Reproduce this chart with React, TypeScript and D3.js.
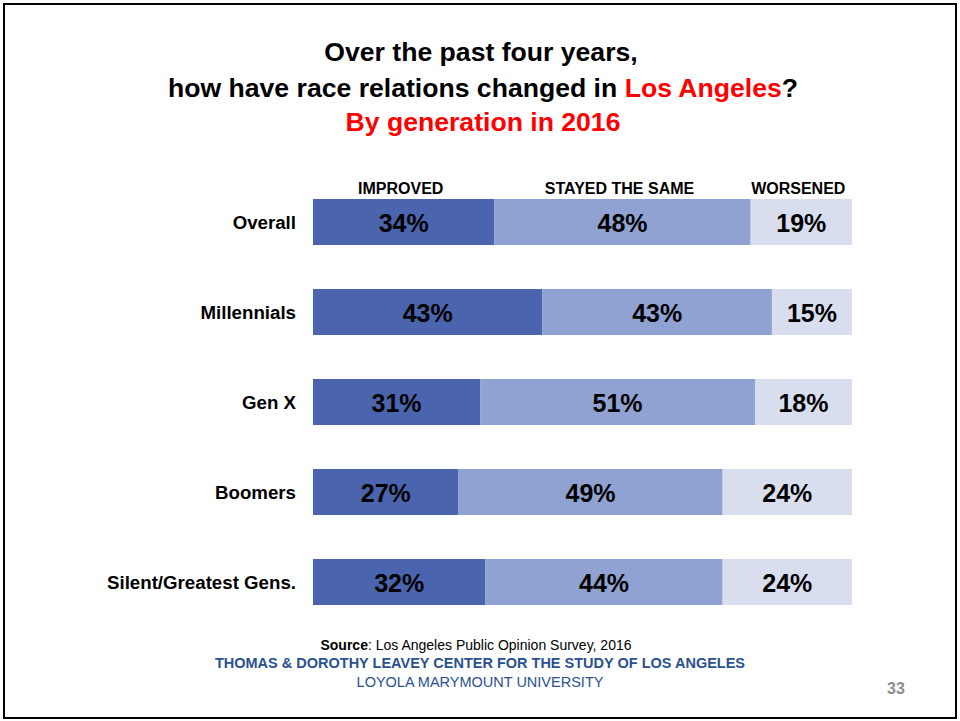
import React from "react";
import * as d3 from "d3";

const categories = ["Overall", "Millennials", "Gen X", "Boomers", "Silent/Greatest Gens."];
const seriesNames = ["IMPROVED", "STAYED THE SAME", "WORSENED"];
const improved = [34, 43, 31, 27, 32];
const stayed = [48, 43, 51, 49, 44];
const worsened = [19, 15, 18, 24, 24];
const colors = ["#4a64ae", "#8fa2d1", "#d9deef"];

const W = 960;
const H = 721;
const FONT = "Liberation Sans, Arial, sans-serif";

export default function App() {
  const rows = categories.map((c, i) => ({
    cat: c,
    s0: improved[i],
    s1: stayed[i],
    s2: worsened[i],
  }));
  const stack = d3.stack<any>().keys(["s0", "s1", "s2"]).offset(d3.stackOffsetExpand);
  const series = stack(rows);
  const x = d3.scaleLinear().domain([0, 1]).range([313, 852]);
  const y = d3
    .scaleBand()
    .domain(categories)
    .range([177, 627])
    .paddingInner(44 / 90)
    .paddingOuter(22 / 90);
  const vals = [improved, stayed, worsened];
  const bw = y.bandwidth();

  return (
    <svg width={W} height={H} style={{ position: "absolute", left: 0, top: 0 }} fontFamily={FONT}>
      <rect x={0} y={0} width={W} height={H} fill="#fff" />
      <rect x={4} y={4} width={952} height={714} fill="none" stroke="#000" strokeWidth={2} />
      <text x={481} y={61} textAnchor="middle" fontSize={26.6} fontWeight="bold" fill="#000">
        Over the past four years,
      </text>
      <text x={483} y={97} textAnchor="middle" fontSize={26.6} fontWeight="bold" fill="#000">
        how have race relations changed in <tspan fill="#ff0000">Los Angeles</tspan>?
      </text>
      <text x={483} y={131} textAnchor="middle" fontSize={26.6} fontWeight="bold" fill="#ff0000">
        By generation in 2016
      </text>
      {series.map((s, k) => {
        const d0 = s[0];
        return (
          <text key={"h" + k} x={(x(d0[0]) + x(d0[1])) / 2 - 3} y={194} textAnchor="middle" fontSize={16} fontWeight="bold" fill="#000">
            {seriesNames[k]}
          </text>
        );
      })}
      {series.map((s, k) => (
        <g key={"s" + k}>
          {s.map((d, i) => {
            const x0 = x(d[0]);
            const x1 = x(d[1]);
            const yy = y(categories[i])!;
            return (
              <g key={i}>
                <rect x={x0} y={yy} width={x1 - x0} height={bw} fill={colors[k]} />
                <text x={(x0 + x1) / 2} y={yy + bw / 2 + 10} textAnchor="middle" fontSize={25} fontWeight="bold" fill="#000">
                  {vals[k][i]}%
                </text>
              </g>
            );
          })}
        </g>
      ))}
      {categories.map((c) => (
        <text key={c} x={296} y={y(c)! + bw / 2 + 6.5} textAnchor="end" fontSize={18.7} fontWeight="bold" fill="#000">
          {c}
        </text>
      ))}
      <text x={476} y={650} textAnchor="middle" fontSize={14} fill="#000">
        <tspan fontWeight="bold">Source</tspan>: Los Angeles Public Opinion Survey, 2016
      </text>
      <text x={480} y={668} textAnchor="middle" fontSize={14.5} fontWeight="bold" fill="#2a5190">
        THOMAS &amp; DOROTHY LEAVEY CENTER FOR THE STUDY OF LOS ANGELES
      </text>
      <text x={480} y={687} textAnchor="middle" fontSize={14.5} fill="#2a5190">
        LOYOLA MARYMOUNT UNIVERSITY
      </text>
      <text x={896} y={694} textAnchor="middle" fontSize={16} fontWeight="bold" fill="#8c8c8c">
        33
      </text>
    </svg>
  );
}
